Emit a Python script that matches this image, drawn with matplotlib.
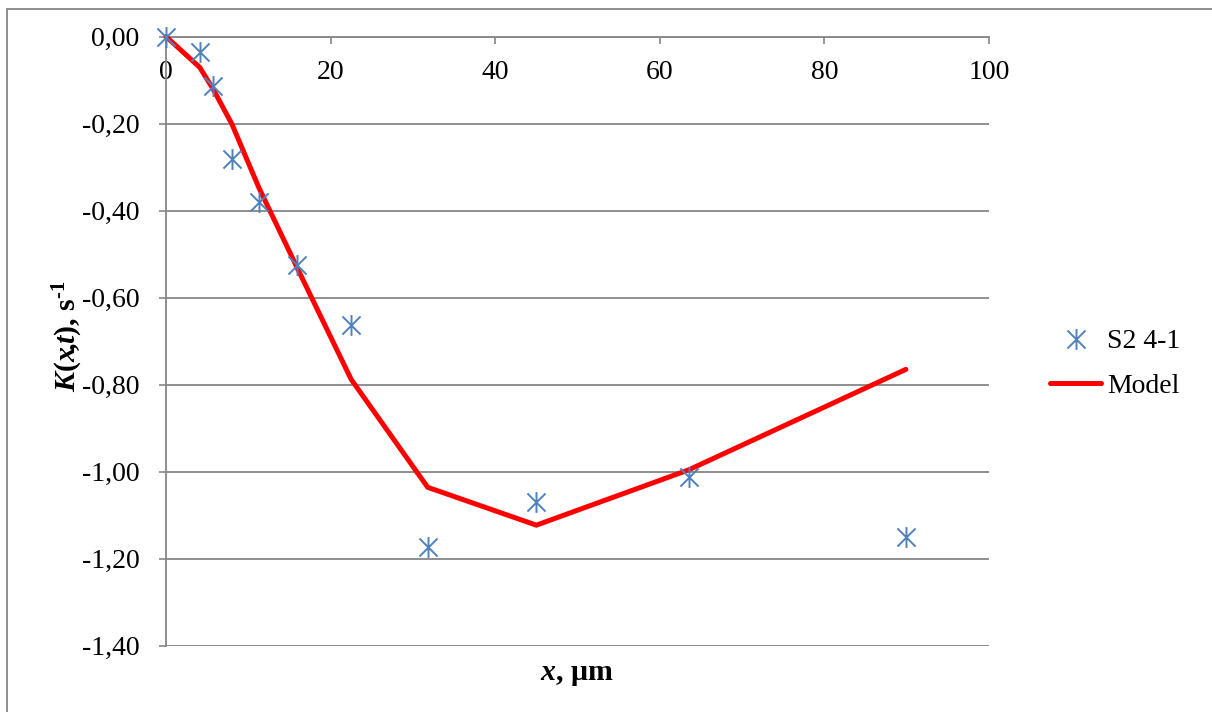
import matplotlib
matplotlib.use("Agg")
import matplotlib.pyplot as plt
from matplotlib.path import Path
from matplotlib.patches import Rectangle
from matplotlib.ticker import FuncFormatter

plt.rcParams['font.family'] = ['Liberation Serif', 'DejaVu Serif']
plt.rcParams['mathtext.fontset'] = 'custom'
plt.rcParams['mathtext.rm'] = 'Liberation Serif:bold'
plt.rcParams['mathtext.it'] = 'Liberation Serif:bold:italic'
plt.rcParams['mathtext.bf'] = 'Liberation Serif:bold'

# measured points (S2 4-1)
x_meas = [0, 4.1, 5.7, 8.0, 11.3, 15.9, 22.5, 31.8, 45.0, 63.5, 89.9]
y_meas = [0.0, -0.036, -0.113, -0.282, -0.381, -0.524, -0.662, -1.173, -1.069, -1.013, -1.151]

# model curve
x_model = [0, 4.1, 5.7, 8.0, 11.3, 15.9, 22.5, 31.8, 45.0, 63.5, 89.9]
y_model = [0.0, -0.071, -0.12, -0.201, -0.348, -0.53, -0.788, -1.036, -1.123, -0.996, -0.765]

x_ticks = [0, 20, 40, 60, 80, 100]
y_ticks = [0.0, -0.2, -0.4, -0.6, -0.8, -1.0, -1.2, -1.4]

grey = '#868686'
blue = '#4F81BD'

# excel style star marker
star = Path([(-1, -1), (1, 1), (-1, 1), (1, -1), (0, -1.15), (0, 1.15)],
            [Path.MOVETO, Path.LINETO, Path.MOVETO, Path.LINETO, Path.MOVETO, Path.LINETO])

fig = plt.figure(figsize=(12.12, 7.12), dpi=100)
W, H = 1212, 712
ax = fig.add_axes([166 / W, 1 - 645.7 / H, (989 - 166) / W, (645.7 - 36.5) / H])

ax.plot(x_meas, y_meas, linestyle='none', marker=star, markersize=15,
        markeredgewidth=1.4, color=blue, label='S2 4-1', zorder=4, clip_on=False)
ax.plot(x_model, y_model, color='#FF0000', linewidth=3.6, label='Model',
        solid_capstyle='round', solid_joinstyle='miter', zorder=3, clip_on=False)

ax.set_xlim(0, 100)
ax.set_ylim(-1.4, 0)
ax.set_xticks(x_ticks)
ax.set_yticks(y_ticks)
ax.yaxis.set_major_formatter(FuncFormatter(lambda v, p: ('%.2f' % v).replace('.', ',').replace('-0,00', '0,00')))

ax.spines['top'].set_visible(False)
ax.spines['right'].set_visible(False)
ax.spines['bottom'].set_position(('data', 0))
ax.spines['bottom'].set_color(grey)
ax.spines['left'].set_color(grey)
ax.spines['bottom'].set_linewidth(1.3)
ax.spines['left'].set_linewidth(1.3)

ax.tick_params(axis='x', direction='out', length=5, width=1.2, color=grey,
               labelsize=20, pad=12)
ax.tick_params(axis='y', direction='out', length=5, width=1.2, color=grey,
               labelsize=20, pad=14)
ax.yaxis.grid(True, color=grey, linewidth=1.3)
ax.set_axisbelow(True)

fig.text(68 / W, 1 - 336 / H, r'$K(x\!$,$t)$, s$^{\mathrm{‐1}}$', rotation=90,
         ha='center', va='center', fontsize=21.5, fontweight='bold')
fig.text(577 / W, 1 - 675 / H, r'$x$, μm', ha='center', va='center',
         fontsize=21.5, fontweight='bold')

fig.legend(loc='center left', bbox_to_anchor=(1050 / W, 1 - 364 / H),
           frameon=False, fontsize=20, handlelength=1.85, handletextpad=0.2,
           labelspacing=0.7, borderpad=0, borderaxespad=0)

fig.patches.append(Rectangle((7 / W, -0.1), 1.2, 1 - 9 / H + 0.1,
                             transform=fig.transFigure, fill=False,
                             edgecolor=grey, linewidth=1.3))

fig.savefig('out.png', dpi=100)
